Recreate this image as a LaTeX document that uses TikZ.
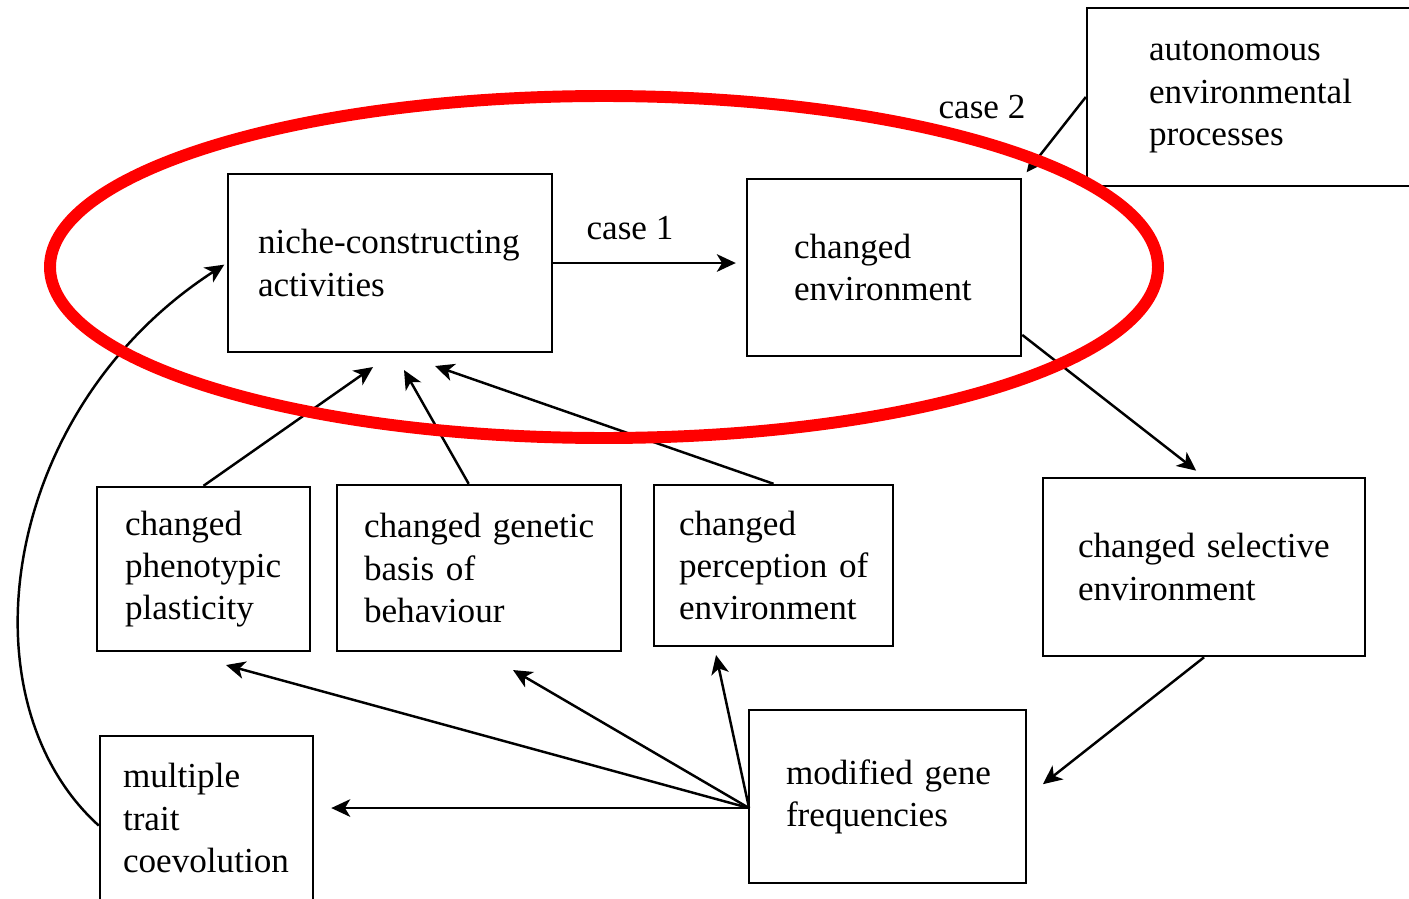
\documentclass[tikz,border=0pt]{standalone}
\usepackage{fontspec}
\setmainfont{Liberation Serif}
\usetikzlibrary{arrows.meta}

\begin{document}
\begin{tikzpicture}[scale=0.1, line width=0.7pt, >={Stealth[length=5.4pt,width=5pt,inset=1.5pt]}]
    \tikzstyle{every node}+=[inner sep=0pt]
    \tikzstyle{box}=[draw, rectangle, align=left, inner ysep=0pt]
    \useasboundingbox (0,0) rectangle (140.9,-89.9);
    \draw (39,-26.3) node [box, text width=2.64cm, inner xsep=0.3cm, minimum height=1.78cm] (niche) {\mbox{niche-constructing}\\activities};
    \draw (88.4,-26.75) node [box, text width=1.8cm, inner xsep=0.47cm, minimum height=1.77cm] (env) {changed\\environment};
    \draw (127.35,-9.7) node [box, text width=2.49cm, inner xsep=0.62cm, minimum height=1.78cm] (auto) {autonomous\\environmental\\processes};
    \draw (20.35,-56.9) node [box, text width=1.57cm, inner xsep=0.28cm, minimum height=1.64cm] (pheno) {changed\\phenotypic\\plasticity};
    \draw (47.9,-56.8) node [box, text width=2.3cm, inner xsep=0.27cm, minimum height=1.66cm] (gen) {\mbox{changed genetic}\\\mbox{basis of}\\behaviour};
    \draw (77.35,-56.55) node [box, text width=1.89cm, inner xsep=0.25cm, minimum height=1.61cm] (percept) {changed\\\mbox{perception of}\\environment};
    \draw (120.4,-56.7) node [box, text width=2.52cm, inner xsep=0.35cm, minimum height=1.78cm] (select) {\mbox{changed selective}\\environment};
    \draw (88.75,-79.65) node [box, text width=2.03cm, inner xsep=0.37cm, minimum height=1.73cm] (modgene) {\mbox{modified gene}\\frequencies};
    \draw (20.65,-81.8) node [box, text width=1.67cm, inner xsep=0.23cm, minimum height=1.64cm] (multi) {multiple\\trait\\coevolution};
    \draw (63,-22.8) node (case1) {case 1};
    \draw (98.2,-10.7) node (case2) {case 2};
    \coordinate (fan) at (74.9,-80.8);
    \coordinate (pp) at (22.6,-66.5);
    \coordinate (gb) at (51.3,-67.0);
    \coordinate (pe) at (71.6,-65.5);
    \coordinate (na) at (37.3,-36.7);
    \coordinate (nb) at (40.4,-37.0);
    \coordinate (nc) at (43.5,-36.6);
    \draw [->, shorten >=0.1cm] (niche.east) -- (niche.east -| env.west);
    \draw [->, shorten >=0.07cm] (auto.west) -- (env.north east);
    \draw [->, shorten >=0.1cm] (env.-26) -- (select.north);
    \draw [->, shorten >=0.2cm] (select.south) -- (modgene.east);
    \draw [->, shorten >=0.17cm] (fan) -- (fan -| multi.east);
    \draw [->] (fan) -- (pp);
    \draw [->] (fan) -- (gb);
    \draw [->] (fan) -- (pe);
    \draw [->] (pheno.north) -- (na);
    \draw [->] (gen.97) -- (nb);
    \draw [->] (percept.north) -- (nc);
    \draw [->, shorten >=0.03cm] (multi.184) .. controls (-4,-70) and (0,-41) .. (niche.west);
    \draw [red, line width=3.4pt] (60.4,-26.7) ellipse (55.4 and 17.1);
\end{tikzpicture}
\end{document}
